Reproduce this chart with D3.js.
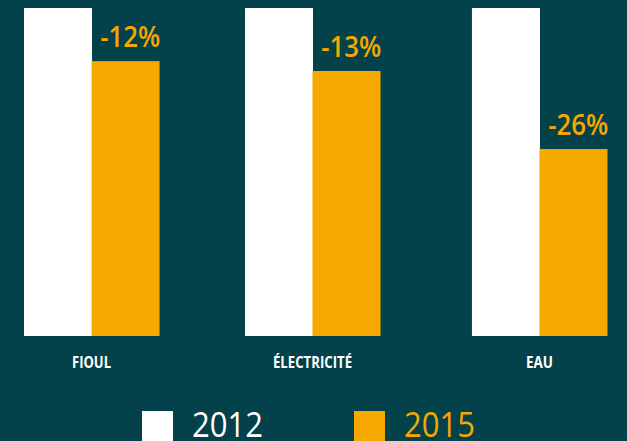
<!DOCTYPE html>
<html>
<head>
<meta charset="utf-8">
<script src="https://cdn.jsdelivr.net/npm/d3@7"></script>
<style>
  html, body { margin: 0; padding: 0; background: #03424b; }
  svg { display: block; }
</style>
</head>
<body>
<svg id="chart" width="627" height="441"></svg>
<script>
const categories = ["FIOUL", "ÉLECTRICITÉ", "EAU"];
const seriesNames = ["2012", "2015"];
const values2012 = [100, 100, 100];
const values2015 = [83.8, 80.8, 57.0];
const changeLabels = ["-12%", "-13%", "-26%"];

const W = 627, H = 441;
const bg = "#03424b", orange = "#f5a800", white = "#ffffff";
const colors = [white, orange];
const svg = d3.select("#chart");
svg.append("rect").attr("width", W).attr("height", H).attr("fill", bg);

const x0 = d3.scaleBand().domain(categories).range([24, 607]).paddingInner(0.397).paddingOuter(0);
const x1 = d3.scaleBand().domain(seriesNames).range([0, x0.bandwidth()]).padding(0);
const y = d3.scaleLinear().domain([0, 100]).range([336, 8]);

const series = [values2012, values2015];
const rows = categories.map((c, i) => ({ cat: c, vals: seriesNames.map((s, k) => ({ s, v: series[k][i] })) }));

const g = svg.append("g");
const groups = g.selectAll("g.grp").data(rows).join("g")
  .attr("class", "grp")
  .attr("transform", d => `translate(${x0(d.cat) - (d.cat === "ÉLECTRICITÉ" ? 3 : 0)},0)`);
groups.selectAll("rect").data(d => d.vals).join("rect")
  .attr("x", d => x1(d.s))
  .attr("y", d => y(d.v))
  .attr("width", x1.bandwidth() + 0.5)
  .attr("height", d => y(0) - y(d.v))
  .attr("fill", (d, k) => colors[k]);

// change labels
g.selectAll("text.chg").data(categories).join("text")
  .attr("class", "chg")
  .attr("x", (c) => x0(c) - (c === "ÉLECTRICITÉ" ? 3 : 0) + x1("2015") + x1.bandwidth() / 2 + 5)
  .attr("y", (c, i) => y(values2015[i]) - 14)
  .attr("text-anchor", "middle")
  .attr("font-family", "'Open Sans', sans-serif")
  .attr("font-weight", 600)
  .attr("font-size", 28)
  .attr("fill", orange)
  .attr("textLength", 60)
  .attr("lengthAdjust", "spacingAndGlyphs")
  .text((c, i) => changeLabels[i]);

// axis labels
const labelWidths = [39, 79, 27];
const xAxis = d3.axisBottom(x0).tickSize(0).tickPadding(0);
const ax = svg.append("g").attr("transform", "translate(0,0)").call(xAxis);
ax.select(".domain").remove();
ax.selectAll(".tick").attr("transform", d => `translate(${x0(d) + x0.bandwidth() / 2 - (d === "ÉLECTRICITÉ" ? 3 : 0)},0)`);
ax.selectAll(".tick text")
  .attr("y", 368)
  .attr("dy", 0)
  .attr("font-family", "'Open Sans', sans-serif")
  .attr("font-weight", 700)
  .attr("font-size", 16.5)
  .attr("fill", white)
  .attr("textLength", (d, i) => labelWidths[i])
  .attr("lengthAdjust", "spacingAndGlyphs");

// legend
const legendX = [142, 354];
const leg = svg.append("g");
seriesNames.forEach((s, k) => {
  leg.append("rect").attr("x", legendX[k]).attr("y", 411).attr("width", 31).attr("height", 40).attr("fill", colors[k]);
  leg.append("text")
    .attr("x", legendX[k] + 50)
    .attr("y", 437)
    .attr("font-family", "'Open Sans', sans-serif")
    .attr("font-weight", 500)
    .attr("font-size", 34)
    .attr("fill", colors[k])
    .attr("textLength", 71)
    .attr("lengthAdjust", "spacingAndGlyphs")
    .text(s);
});
</script>
</body>
</html>
